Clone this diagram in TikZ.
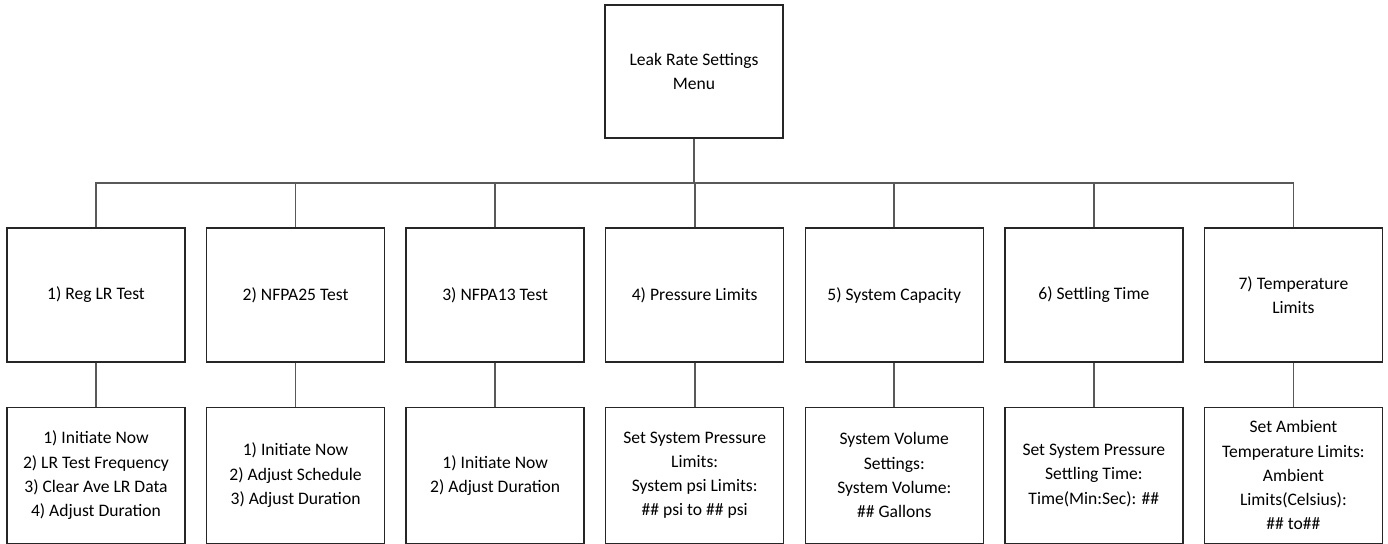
\documentclass[tikz,border=0pt]{standalone}
\usepackage{fontspec}
\setmainfont{Carlito}
\usepackage{tikz}
\usetikzlibrary{positioning}
\tikzstyle{menu}   = [rectangle, minimum width=3.56cm, minimum height=2.66cm, align=center, draw=black!85, line width=0.75pt, font=\fontsize{10}{13.8}\selectfont]
\tikzstyle{item}   = [rectangle, minimum width=3.56cm, minimum height=2.68cm, align=center, draw=black!85, line width=0.75pt, font=\fontsize{10}{13.8}\selectfont]
\tikzstyle{detail} = [rectangle, minimum width=3.56cm, minimum height=2.72cm, align=center, draw=black!85, line width=0.75pt, font=\fontsize{10}{13.8}\selectfont]
\tikzstyle{link}   = [draw=black!65, line width=1pt]

\begin{document}
\begin{tikzpicture}[node distance=0.88cm and 0.405cm]
            \useasboundingbox (0,0) rectangle (27.76,-10.88);
            \node[menu] (menu) at (13.88,-1.43) {Leak Rate Settings\\Menu};
            \node[item] (reg)    at (1.92,-5.9) {1) Reg LR Test};
            \node[item] (nfpa25) [right=of reg   ] {2) NFPA25 Test};
            \node[item] (nfpa13) [right=of nfpa25] {3) NFPA13 Test};
            \node[item] (press)  [right=of nfpa13] {4) Pressure Limits};
            \node[item] (cap)    [right=of press ] {5) System Capacity};
            \node[item] (settle) [right=of cap   ] {6) Settling Time};
            \node[item] (temp)   [right=of settle] {7) Temperature\\Limits};

            \node[detail] (regsub)    [below=of reg   ] {1) Initiate Now\\2) LR Test Frequency\\3) Clear Ave LR Data\\4) Adjust Duration};
            \node[detail] (nfpa25sub) [below=of nfpa25] {1) Initiate Now\\2) Adjust Schedule\\3) Adjust Duration};
            \node[detail] (nfpa13sub) [below=of nfpa13] {1) Initiate Now\\2) Adjust Duration};
            \node[detail] (presssub)  [below=of press ] {Set System Pressure\\Limits:\\System psi Limits:\\\#\# psi to \#\# psi};
            \node[detail] (capsub)    [below=of cap   ] {System Volume\\Settings:\\System Volume:\\\#\# Gallons};
            \node[detail] (settlesub) [below=of settle] {Set System Pressure\\Settling Time:\\Time(Min:Sec): \#\#};
            \node[detail] (tempsub)   [below=of temp  ] {Set Ambient\\Temperature Limits:\\Ambient\\Limits(Celsius):\\\#\# to\#\#};

            \coordinate (bus) at (0,-3.66);
            \draw[link] (menu.south) -- (menu.south |- bus);
            \draw[link] (reg.north) -- (reg.north |- bus) -- (temp.north |- bus) -- (temp.north);
            \draw[link] (nfpa25.north) -- (nfpa25.north |- bus);
            \draw[link] (nfpa13.north) -- (nfpa13.north |- bus);
            \draw[link] (press.north) -- (press.north |- bus);
            \draw[link] (cap.north) -- (cap.north |- bus);
            \draw[link] (settle.north) -- (settle.north |- bus);

            \draw[link] (reg.south) -- (regsub.north);
            \draw[link] (nfpa25.south) -- (nfpa25sub.north);
            \draw[link] (nfpa13.south) -- (nfpa13sub.north);
            \draw[link] (press.south) -- (presssub.north);
            \draw[link] (cap.south) -- (capsub.north);
            \draw[link] (settle.south) -- (settlesub.north);
            \draw[link] (temp.south) -- (tempsub.north);
        \end{tikzpicture}
\end{document}
